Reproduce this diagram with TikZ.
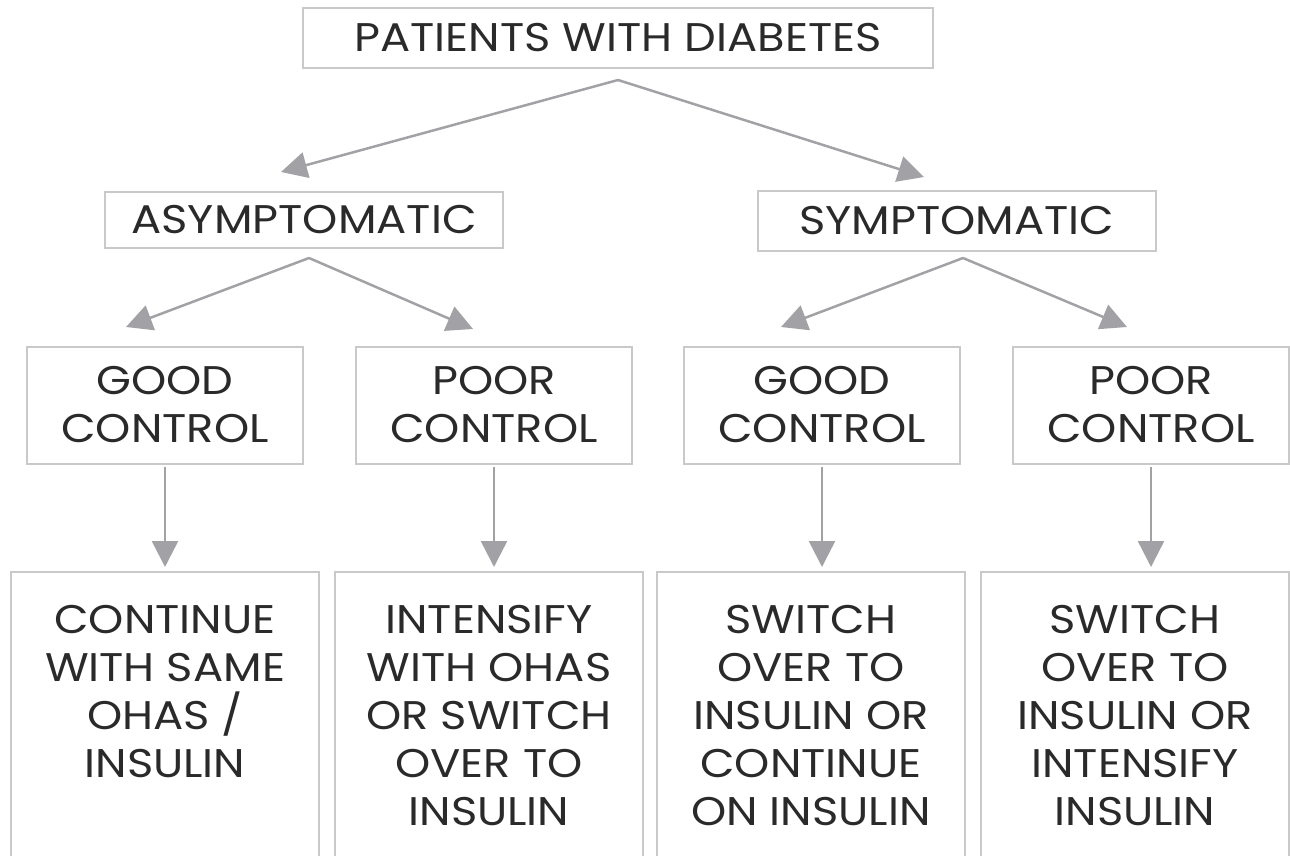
\documentclass[tikz,border=0pt]{standalone}
\usepackage{fontspec}
\setmainfont{Poppins}[FakeStretch = 1.12]
\usetikzlibrary{arrows.meta}
\definecolor{framegray}{HTML}{C9C9C9}
\definecolor{arrowgray}{HTML}{A2A2A6}
\definecolor{textdark}{HTML}{2A2A2A}

\begin{document}
\begin{tikzpicture}[x = 0.5pt, y = -0.5pt, every node/.style = {rectangle, draw = framegray, line width = 1pt, text = textdark, inner sep = 0pt, align = center, font = \fontsize{20}{24}\selectfont}, endtext/.style = {draw = none, anchor = north}]

	\useasboundingbox (0, 0) rectangle (1290, 856);
	\clip (0, 0) rectangle (1290, 856);

	\node (PD)  at ( 618,  38) [minimum width = 315pt, minimum height = 30pt] {PATIENTS WITH DIABETES};
	\node (AS)  at ( 304, 220) [minimum width = 199pt, minimum height = 28pt] {ASYMPTOMATIC};
	\node (SY)  at ( 957, 221) [minimum width = 199pt, minimum height = 30pt] {SYMPTOMATIC};
	\node (GC1) at ( 165, 405) [minimum width = 138pt, minimum height = 58.5pt] {GOOD\\CONTROL};
	\node (PC1) at ( 494, 405) [minimum width = 138pt, minimum height = 58.5pt] {POOR\\CONTROL};
	\node (GC2) at ( 822, 405) [minimum width = 138pt, minimum height = 58.5pt] {GOOD\\CONTROL};
	\node (PC2) at (1151, 405) [minimum width = 138pt, minimum height = 58.5pt] {POOR\\CONTROL};
	\node (R1)  at ( 165, 571) [anchor = north, minimum width = 154pt, minimum height = 170pt] {};
	\node (R2)  at ( 489, 571) [anchor = north, minimum width = 154pt, minimum height = 170pt] {};
	\node (R3)  at ( 811, 571) [anchor = north, minimum width = 154pt, minimum height = 170pt] {};
	\node (R4)  at (1135, 571) [anchor = north, minimum width = 154pt, minimum height = 170pt] {};

	\node (R1t) at ( 165, 604) [endtext] {CONTINUE\\WITH SAME\\OHAS /\\INSULIN};
	\node (R2t) at ( 489, 604) [endtext] {INTENSIFY\\WITH OHAS\\OR SWITCH\\OVER TO\\INSULIN};
	\node (R3t) at ( 811, 604) [endtext] {SWITCH\\OVER TO\\INSULIN OR\\CONTINUE\\ON INSULIN};
	\node (R4t) at (1135, 604) [endtext] {SWITCH\\OVER TO\\INSULIN OR\\INTENSIFY\\INSULIN};

	% fork points and arrow tips
	\coordinate (PDo) at ( 618,  80);
	\coordinate (ASi) at ( 281, 172);
	\coordinate (SYi) at ( 924, 177);
	\coordinate (ASo) at ( 309, 258);
	\coordinate (GC1i) at ( 126, 327);
	\coordinate (PC1i) at ( 473, 329);
	\coordinate (SYo) at ( 963, 258);
	\coordinate (GC2i) at ( 781, 327);
	\coordinate (PC2i) at (1127, 327);

	\foreach \from/\to in {PDo/ASi, PDo/SYi, ASo/GC1i, ASo/PC1i, SYo/GC2i, SYo/PC2i}
		\path (\from) edge [-{Triangle[length = 13pt, width = 13pt]}, draw = arrowgray, line width = 1.25pt] (\to);
	\foreach \from/\to in {GC1/R1, PC1/R2, GC2/R3, PC2/R4}
		\path (\from.south) edge [-{Triangle[length = 13pt, width = 13pt]}, draw = arrowgray, line width = 1.25pt, shorten < = 1pt, shorten > = 2pt] (\from.south |- \to.north);

\end{tikzpicture}
\end{document}
